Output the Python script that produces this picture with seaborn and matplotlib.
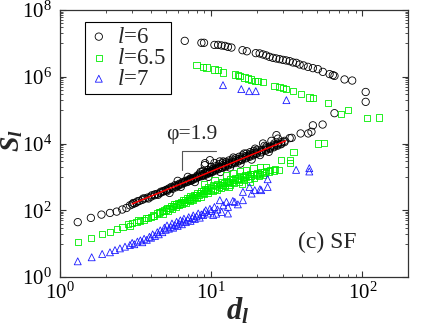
import numpy as np
import pandas as pd
import matplotlib
matplotlib.use("Agg")
import matplotlib.pyplot as plt
import seaborn as sns
from matplotlib.ticker import LogLocator, NullFormatter

# ---------------- data (d_l, S_l) ----------------
black_pts = [
    (1.31, 44), (1.60, 59), (1.88, 74), (2.14, 83), (2.37, 91), (2.58, 105), (2.75, 117),
    (2.9, 140), (3.0, 150), (3.05, 165), (3.1, 160), (3.2, 170), (3.25, 185), (3.35, 190),
    (3.5, 205), (3.55, 225), (3.65, 225), (3.8, 240), (3.85, 225), (4.0, 255), (4.05, 280),
    (4.2, 280), (4.25, 300), (4.4, 310), (4.45, 290), (4.6, 330), (4.65, 360), (4.8, 360),
    (4.85, 380), (5.0, 390), (5.05, 410), (5.1, 370), (5.2, 420), (5.25, 450), (5.5, 470),
    (5.45, 500), (5.55, 440), (5.8, 520), (5.75, 560), (5.85, 490), (6.1, 580), (6.05, 540),
    (6.15, 620), (6.4, 640), (6.35, 600), (6.45, 690), (6.7, 700), (6.65, 660), (6.75, 760),
    (7.0, 740), (7.05, 800), (6.95, 700), (7.3, 800), (7.25, 860), (7.35, 760), (7.3, 900),
    (7.6, 870), (7.65, 930), (7.55, 820), (8.0, 950), (8.05, 1020), (7.95, 900), (8.1, 1100),
    (8.3, 1000), (8.35, 1100), (8.4, 1250), (8.7, 1100), (8.75, 1200), (8.65, 1050), (8.8, 1500),
    (9.0, 1180), (9.06, 1300), (8.95, 1100), (9.06, 2240), (9.1, 2570), (9.4, 1300), (9.45, 1400),
    (9.35, 1200), (9.5, 1600), (9.8, 1400), (9.85, 1500), (9.75, 1300), (9.8, 3160), (10.2, 1500),
    (10.25, 1650), (10.15, 1400), (10.3, 1800), (10.5, 2600), (10.7, 1650), (10.75, 1800),
    (10.65, 1550), (10.8, 2100), (11.2, 1800), (11.25, 2000), (11.15, 1700), (11.3, 2400),
    (11.4, 2900), (11.8, 1950), (11.85, 2200), (11.75, 1850), (11.9, 2600), (12.4, 2150),
    (12.45, 2400), (12.35, 2000), (12.5, 2800), (13.0, 2350), (13.05, 2600), (12.95, 2200),
    (13.1, 3100), (13.7, 2550), (13.75, 2850), (13.65, 2400), (13.8, 3300), (14.4, 2800),
    (14.45, 3100), (14.35, 2600), (14.5, 3600), (15.2, 3100), (15.25, 3400), (15.15, 2900),
    (15.3, 4000), (16.0, 3400), (16.05, 3800), (15.95, 3200), (16.1, 4400), (17.0, 3850),
    (17.05, 4200), (16.95, 3600), (17.1, 5000), (18.0, 4300), (18.05, 4700), (17.95, 4000),
    (18.1, 5500), (19.0, 4700), (19.05, 5200), (18.95, 4400), (19.1, 6000), (20.0, 5200),
    (20.05, 5700), (19.95, 4900), (20.1, 6500), (21.5, 5800), (21.55, 6400), (21.45, 5400),
    (22.0, 1.0e4), (23.0, 6600), (23.05, 7200), (22.95, 6100), (23.1, 8000), (24.5, 7400),
    (24.55, 8100), (24.45, 6900), (26.0, 8300), (26.05, 9000), (25.95, 7700), (26.1, 1.0e4),
    (27.0, 1.78e4), (27.5, 9200), (27.55, 1.0e4), (27.45, 8600), (27.6, 1.4e4), (29.0, 1.0e4),
    (29.05, 1.1e4), (28.95, 9500), (30.5, 1.1e4), (30.55, 1.2e4), (33.0, 1.45e4),
    (5.3, 330), (6.3, 500), (7.8, 700), (9.6, 1000), (11.5, 1400), (13.3, 1900), (15.6, 2500),
    (18.5, 3300), (21.0, 4500), (24.0, 5600), (6.0, 760), (7.0, 1000), (8.5, 1400), (10.0, 2000),
    (12.0, 2900), (14.0, 3800), (16.5, 5000), (19.5, 7000), (22.5, 8500), (25.0, 1.2e4),
    (34.0, 1.48e4), (39.0, 2.0e4), (43.8, 2.0e4), (46.0, 2.24e4), (47.0, 3.5e4), (54.5, 3.7e4),
    (65.3, 8.1e4), (105, 1.77e5), (105, 3.5e5),
    (6.68, 1.19e7), (8.61, 1.04e7), (8.96, 1.04e7), (10.5, 9.0e6), (11.1, 9.0e6), (11.7, 8.65e6),
    (12.3, 8.4e6), (12.9, 7.85e6), (13.6, 7.5e6), (16.1, 6.25e6), (17.2, 5.8e6), (19.7, 5.1e6),
    (20.9, 5.0e6), (22.0, 4.65e6), (23.1, 4.35e6), (24.3, 3.95e6), (25.6, 3.68e6), (26.9, 3.53e6),
    (28.3, 3.37e6), (29.8, 3.2e6), (31.3, 3.08e6), (33.0, 2.93e6), (34.7, 2.68e6), (36.5, 2.61e6),
    (38.4, 2.33e6), (40.8, 2.18e6), (43.6, 1.98e6), (47.0, 1.81e6), (50.7, 1.69e6), (54.7, 1.40e6),
    (60.6, 1.2e6), (63.7, 1.12e6), (65.3, 1.06e6), (76.1, 8.3e5), (85.5, 7.7e5),
]

green_pts = [
    (1.31, 11), (1.60, 14.7), (1.90, 19), (2.14, 22.8), (2.37, 26.8), (2.59, 30.8),
    (2.8, 38), (2.9, 34), (3.0, 42), (3.2, 45), (3.3, 50), (3.4, 48), (3.6, 52), (3.7, 58),
    (3.8, 60), (4.0, 63), (4.1, 70), (4.2, 66), (4.4, 80), (4.5, 86), (4.6, 88), (4.7, 95),
    (4.8, 80), (4.9, 98), (5.0, 105), (5.1, 115), (5.2, 96), (5.3, 120), (5.4, 132), (5.5, 110),
    (5.6, 135), (5.7, 150), (5.8, 125), (5.9, 148), (6.0, 165), (6.1, 140), (6.2, 160),
    (6.3, 180), (6.4, 150), (6.5, 200), (6.6, 180), (6.7, 200), (6.8, 165), (6.9, 225),
    (7.0, 200), (7.1, 225), (7.2, 185), (7.3, 260), (7.4, 220), (7.5, 250), (7.6, 205),
    (7.7, 290), (7.8, 250), (7.9, 280), (8.0, 230), (8.1, 330), (8.3, 290), (8.4, 320),
    (8.5, 260), (8.6, 380), (8.8, 330), (8.9, 370), (9.0, 300), (9.1, 440), (9.3, 370),
    (9.4, 420), (9.5, 340), (9.6, 500), (9.9, 410), (10.0, 470), (10.2, 380), (10.3, 560),
    (10.5, 450), (10.7, 520), (10.9, 420), (11.0, 620), (11.2, 510), (11.4, 580), (11.6, 470),
    (11.8, 680), (12.0, 580), (12.2, 650), (12.4, 530), (12.6, 760), (12.8, 640), (13.0, 720),
    (13.2, 590), (13.4, 850), (13.7, 720), (14.0, 800), (14.2, 650), (14.4, 950), (14.7, 800),
    (15.0, 890), (15.3, 730), (15.5, 1050), (15.8, 880), (16.2, 980), (16.5, 800), (16.8, 1150),
    (17.0, 980), (17.5, 1100), (17.8, 900), (18.0, 1250), (18.3, 1050), (18.8, 1200),
    (19.2, 950), (19.7, 1150), (20.2, 1300), (20.6, 1050), (21.0, 1250), (21.5, 1400),
    (22.0, 1150), (22.5, 1350), (23.0, 1500), (24.0, 1450), (24.5, 1600), (26.0, 1550),
    (26.5, 1700), (28.0, 1650),
    (9.0, 600), (10.5, 800), (12.5, 1100), (14.0, 1300), (15.5, 1500), (17.0, 1600),
    (19.0, 1800), (21.0, 1900), (23.0, 2000), (13.0, 500), (16.0, 600), (18.0, 700),
    (29.0, 3200), (33.0, 3200), (33.2, 2650), (35.0, 5600), (51.0, 1.0e4), (55.5, 1.05e4),
    (7.98, 2.22e6), (8.83, 1.98e6), (9.29, 1.90e6), (10.5, 1.65e6), (11.1, 1.58e6), (12.0, 1.35e6),
    (14.3, 1.17e6), (15.0, 1.12e6), (15.4, 1.04e6), (16.6, 9.5e5), (17.5, 8.9e5), (18.4, 8.3e5),
    (19.4, 7.5e5), (20.4, 7.4e5), (22.0, 6.9e5), (26.2, 5.3e5), (28.3, 5.0e5), (29.8, 4.6e5),
    (31.4, 4.2e5), (34.7, 3.8e5), (39.4, 3.0e5), (44.7, 2.4e5), (47.0, 2.33e5), (59.0, 1.66e5),
    (72.3, 7.6e4), (80.0, 1.0e5), (107, 5.8e4), (129, 6.0e4),
]

blue_pts = [
    (1.31, 2.95), (1.62, 3.9), (1.90, 4.9), (2.14, 5.5), (2.31, 6.4), (2.49, 7.2), (2.69, 8.1),
    (2.90, 9.1), (3.0, 10.5), (3.1, 9.6), (3.25, 11.5), (3.4, 12.5), (3.5, 11.0), (3.6, 14),
    (3.75, 13), (3.9, 16), (4.0, 15), (4.1, 19), (4.25, 17), (4.4, 22), (4.5, 19), (4.6, 25),
    (4.75, 22), (4.9, 30), (5.0, 26), (5.1, 35), (5.25, 28), (5.4, 32), (5.5, 40), (5.6, 30),
    (5.75, 36), (5.9, 45), (6.0, 34), (6.1, 40), (6.25, 50), (6.4, 38), (6.5, 46), (6.6, 56),
    (6.8, 44), (7.0, 52), (7.1, 62), (7.3, 48), (7.5, 58), (7.6, 70), (7.8, 55), (8.0, 66),
    (8.2, 80), (8.4, 60), (8.6, 75), (8.84, 72), (9.0, 88), (9.2, 100), (9.5, 80), (9.8, 110),
    (10.0, 95), (10.3, 72), (10.5, 125), (10.8, 79), (11.0, 105), (11.4, 200), (11.7, 89),
    (12.0, 140), (12.6, 178), (12.9, 126), (12.9, 80), (13.9, 190), (14.3, 178), (15.0, 150),
    (16.2, 355), (16.2, 200), (17.9, 500), (18.5, 316), (19.4, 400), (21.0, 425), (21.4, 400),
    (23.6, 850), (23.6, 500), (36.4, 1620), (44.5, 1820), (44.5, 1450),
    (11.96, 5.6e5), (15.8, 4.26e5), (17.8, 3.7e5), (19.7, 3.7e5), (31.4, 1.99e5),
]

black_d, black_S = [p[0] for p in black_pts], [p[1] for p in black_pts]
green_d, green_S = [p[0] for p in green_pts], [p[1] for p in green_pts]
blue_d, blue_S = [p[0] for p in blue_pts], [p[1] for p in blue_pts]

fit_d = [3.0, 31.0]
fit_S = [155, 1.2e4]

bracket_d = [6.39, 6.39, 10.7]
bracket_S = [1600, 6050, 6050]

labels = [r"$l$=6", r"$l$=6.5", r"$l$=7"]
xtick_vals = [1, 10, 100]
ytick_vals = [1, 1e2, 1e4, 1e6, 1e8]

# ---------------- style ----------------
sns.set_theme(style="ticks")
plt.rcParams.update({
    "font.family": ["Liberation Serif", "DejaVu Serif"],
    "mathtext.fontset": "custom",
    "mathtext.rm": "Liberation Serif",
    "mathtext.it": "Liberation Serif:italic",
    "mathtext.bf": "Liberation Serif:bold:italic",
    "xtick.direction": "in", "ytick.direction": "in",
    "xtick.top": True, "ytick.right": True,
    "xtick.major.size": 4.5, "ytick.major.size": 4.5,
    "xtick.minor.size": 2.3, "ytick.minor.size": 2.3,
    "xtick.major.width": 0.8, "ytick.major.width": 0.8,
    "xtick.minor.width": 0.6, "ytick.minor.width": 0.6,
    "axes.linewidth": 0.9,
    "axes.edgecolor": "#333333",
    "xtick.color": "#333333", "ytick.color": "#333333",
    "xtick.labelcolor": "black", "ytick.labelcolor": "black",
})

fig = plt.figure(figsize=(4.23, 3.27), dpi=100)
ax = fig.add_axes([60 / 423, 1 - 277 / 327, 348 / 423, 267 / 327])

sns.scatterplot(x=black_d, y=black_S, marker="o", s=28, facecolor="none",
                edgecolor="black", color="black", linewidth=0.6, ax=ax, label=labels[0], zorder=3)
sns.scatterplot(x=green_d, y=green_S, marker="s", s=20, facecolor="none",
                edgecolor="#00ee00", color="#00ee00", linewidth=0.6, ax=ax, label=labels[1], zorder=4)
sns.scatterplot(x=blue_d, y=blue_S, marker="^", s=25, facecolor="none",
                edgecolor="#1a1aff", color="#1a1aff", linewidth=0.6, ax=ax, label=labels[2], zorder=5)
sns.lineplot(x=fit_d, y=fit_S, color="red", linewidth=1.1, ax=ax, zorder=6)
ax.plot(bracket_d, bracket_S, color="#555555", linewidth=0.8, zorder=6)

ax.set_xscale("log")
ax.set_yscale("log")
ax.set_xlim(1, 200)
ax.set_ylim(1, 1e8)

ax.xaxis.set_minor_locator(LogLocator(base=10, subs=np.arange(2, 10)))
ax.xaxis.set_minor_formatter(NullFormatter())
ax.set_xticks(xtick_vals)
ax.set_xticklabels([r"$10^{%d}$" % int(np.log10(v)) for v in xtick_vals])
ax.set_yticks(ytick_vals)
ax.set_yticklabels([r"$10^{%d}$" % int(np.log10(v)) for v in ytick_vals])
ax.yaxis.set_minor_locator(LogLocator(base=100, subs=np.arange(10, 100, 10)))
ax.yaxis.set_minor_formatter(NullFormatter())
ax.tick_params(axis="both", which="major", labelsize=15, pad=4)
ax.tick_params(axis="y", which="major", pad=6)

ax.set_xlabel("")
ax.set_ylabel("")
fig.text(238 / 423, 1 - 311 / 327, r"$\mathbf{d}_{\mathbf{l}}$", fontsize=22,
         ha="center", va="center")
fig.text(12 / 423, 1 - 140 / 327, r"$\mathbf{S}_{\mathbf{l}}$", fontsize=20,
         ha="center", va="center", rotation=90)

ax.text(0.305, 0.534, "φ=1.9", transform=ax.transAxes, fontsize=15.5, ha="left", va="center")
ax.text(0.767, 0.131, "(c) SF", transform=ax.transAxes, fontsize=17, ha="center", va="center")

leg = ax.legend(loc="upper left", bbox_to_anchor=(0.072, 0.955), borderaxespad=0,
                fontsize=16.5, frameon=True, fancybox=False, framealpha=1,
                edgecolor="black", handlelength=0.8, handletextpad=0.4,
                borderpad=0.2, labelspacing=0.0, scatterpoints=1)
leg.get_frame().set_linewidth(0.8)

fig.savefig("out.png", dpi=100)
